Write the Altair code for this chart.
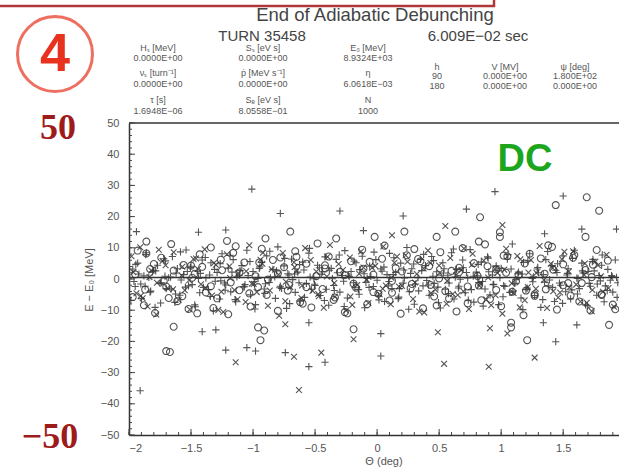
import altair as alt
import pandas as pd

# ---------------- data ----------------
PLUS_X = [-1.97,-1.95,-1.93,-1.90,-1.88,-1.86,-1.83,-1.81,-1.79,-1.77,-1.74,-1.72,-1.70,-1.68,-1.65,-1.63,-1.61,-1.59,-1.56,-1.54,-1.52,-1.50,-1.47,-1.45,-1.43,
          -1.41,-1.38,-1.36,-1.34,-1.32,-1.29,-1.27,-1.25,-1.23,-1.20,-1.18,-1.16,-1.14,-1.11,-1.09,-1.07,-1.05,-1.02,-1.00,-0.98,-0.96,-0.93,-0.91,-0.89,-0.87,
          -0.84,-0.82,-0.80,-0.78,-0.75,-0.73,-0.71,-0.69,-0.66,-0.64,-0.62,-0.60,-0.57,-0.55,-0.53,-0.51,-0.48,-0.46,-0.44,-0.42,-0.39,-0.37,-0.35,-0.33,-0.30,
          -0.28,-0.26,-0.24,-0.21,-0.19,-0.17,-0.15,-0.12,-0.10,-0.08,-0.06,-0.03,-0.01,0.01,0.03,0.06,0.08,0.10,0.12,0.15,0.17,0.19,0.21,0.24,0.26,
          0.28,0.30,0.33,0.35,0.37,0.39,0.42,0.44,0.46,0.48,0.51,0.53,0.55,0.57,0.60,0.62,0.64,0.66,0.69,0.71,0.73,0.75,0.78,0.80,0.82,
          0.84,0.87,0.89,0.91,0.93,0.96,0.98,1.00,1.02,1.05,1.07,1.09,1.11,1.14,1.16,1.18,1.20,1.23,1.25,1.27,1.29,1.32,1.34,1.36,1.38,
          1.41,1.43,1.45,1.47,1.50,1.52,1.54,1.56,1.59,1.61,1.63,1.65,1.68,1.70,1.72,1.74,1.77,1.79,1.81,1.83,1.86,1.88,1.90,1.92,1.94]
PLUS_Y = [3.2,-2.4,5.1,-6.3,1.0,8.4,-4.2,2.3,-9.1,4.4,-1.2,6.5,-3.1,0.4,7.2,-7.5,3.3,-5.2,1.4,9.3,-2.2,4.1,-8.3,2.5,-4.4,
          6.1,0.3,-3.4,5.2,-10.2,2.1,-6.4,8.1,-1.3,3.5,-4.1,6.2,-7.3,1.2,4.3,-2.5,9.2,-5.1,2.4,-8.2,0.2,5.3,-3.2,7.4,-1.1,
          3.1,-6.2,10.3,-2.3,4.2,-9.4,1.3,6.4,-4.3,2.2,-7.1,5.4,-1.4,8.3,-3.3,0.1,4.4,-5.3,2.3,7.1,-8.4,3.4,-2.1,6.3,-4.2,
          1.1,9.1,-6.1,2.4,-1.2,5.2,-3.4,7.3,-9.2,0.2,4.1,-2.4,6.2,-5.4,3.2,-7.2,1.4,8.2,-3.1,2.1,-6.3,5.1,-1.3,10.1,-4.1,
          3.3,-8.1,0.4,6.3,-2.2,4.3,-5.2,7.2,-1.4,2.3,-9.3,5.2,-3.3,1.2,8.4,-6.4,3.1,-2.3,6.1,-4.4,0.3,9.4,-7.4,2.2,-1.1,
          5.4,-3.2,7.1,-5.1,1.3,4.2,-8.2,3.4,-2.1,6.4,-4.3,11.2,-1.4,2.2,-6.1,5.3,-3.4,8.1,0.2,-5.3,3.2,-9.1,1.4,6.2,-2.2,
          4.3,-7.2,2.1,-1.3,7.4,-4.1,3.3,-6.4,9.2,0.3,-3.1,5.1,-8.3,2.4,-2.3,6.3,-5.2,1.1,4.4,-7.3,3.1,-0.4,-4.2,6.1,-1.2]

PLUS2_X = [-1.96,-1.92,-1.87,-1.84,-1.80,-1.75,-1.71,-1.66,-1.62,-1.58,-1.53,-1.49,-1.44,-1.40,-1.35,-1.31,-1.26,-1.22,-1.17,-1.13,
           -1.08,-1.04,-0.99,-0.95,-0.90,-0.86,-0.81,-0.77,-0.72,-0.68,-0.63,-0.59,-0.54,-0.50,-0.45,-0.41,-0.36,-0.32,-0.27,-0.23,
           -0.18,-0.14,-0.09,-0.05,0.00,0.04,0.09,0.13,0.18,0.22,0.27,0.31,0.36,0.40,0.45,0.49,0.54,0.58,0.63,0.67,
           0.72,0.76,0.81,0.85,0.90,0.94,0.99,1.03,1.08,1.12,1.17,1.21,1.26,1.30,1.35,1.39,1.44,1.48,1.53,1.57,
           1.62,1.66,1.71,1.75,1.80,1.84,1.89,1.93]
PLUS2_Y = [-0.8,1.6,-2.3,0.5,2.8,-1.4,0.9,-3.2,1.9,-0.3,2.4,-1.8,0.2,-2.7,1.3,3.1,-0.6,-1.9,2.2,0.7,
           -2.5,1.1,-0.9,3.4,-1.5,0.4,2.6,-3.0,1.7,-0.2,-1.2,2.9,0.6,-2.1,1.5,-3.3,0.1,2.0,-0.7,1.2,
           -2.8,3.0,-1.1,0.8,-0.4,2.5,-2.2,1.4,-3.1,0.3,1.8,-1.6,2.7,-0.5,0.9,-2.6,3.3,-1.3,0.6,-0.1,
           2.1,-3.4,1.0,-0.8,2.3,-1.7,0.4,-2.4,3.2,-0.2,1.6,-2.9,0.7,2.0,-1.0,-0.3,2.8,-2.0,1.3,-3.5,
           0.2,1.9,-1.4,2.6,-0.6,-2.2,1.1,0.5]

PLUS3_X = [-1.985,-1.945,-1.905,-1.865,-1.825,-1.785,-1.745,-1.705,-1.665,-1.625,-1.585,-1.545,-1.505,-1.465,-1.425,-1.385,-1.345,-1.305,-1.265,-1.225,
           -1.185,-1.145,-1.105,-1.065,-1.025,-0.985,-0.945,-0.905,-0.865,-0.825,-0.785,-0.745,-0.705,-0.665,-0.625,-0.585,-0.545,-0.505,-0.465,-0.425,
           -0.385,-0.345,-0.305,-0.265,-0.225,-0.185,-0.145,-0.105,-0.065,-0.025,0.015,0.055,0.095,0.135,0.175,0.215,0.255,0.295,0.335,0.375,
           0.415,0.455,0.495,0.535,0.575,0.615,0.655,0.695,0.735,0.775,0.815,0.855,0.895,0.935,0.975,1.015,1.055,1.095,1.135,1.175,
           1.215,1.255,1.295,1.335,1.375,1.415,1.455,1.495,1.535,1.575,1.615,1.655,1.695,1.735,1.775,1.815,1.855,1.895,1.935]
PLUS3_Y = [-6.8,4.7,-1.6,7.8,-3.9,2.6,-7.7,5.8,0.6,-4.8,8.7,-2.6,3.7,-8.9,1.8,6.9,-5.6,-0.7,4.9,-3.6,
           7.6,-6.6,2.7,-1.8,5.6,-9.6,3.9,-4.6,8.9,0.7,-2.8,6.6,-7.9,1.6,4.6,-5.9,9.8,-1.7,3.6,-6.9,
           2.8,-3.7,7.7,-8.8,0.8,5.7,-4.9,1.7,-2.7,8.6,-6.7,3.8,-0.8,6.8,-5.8,2.9,-9.7,4.8,-3.8,7.9,
           -1.9,5.9,-7.6,1.9,-4.7,9.6,-2.9,3.6,-6.8,0.9,4.7,-8.7,6.7,-1.8,2.8,-5.7,7.8,-3.9,1.7,-9.8,
           5.8,-0.9,3.7,-6.6,8.8,-2.7,4.9,-7.8,1.8,6.6,-4.8,2.6,-8.6,5.6,-1.6,7.7,-3.7,0.8,-5.9]

PLUS_OUT_X = [-1.01,-0.78,-0.30,-1.44,-1.22,-1.94,0.95,1.50,0.72,0.21,-0.11,1.93,1.35,1.65,
              -1.41,-1.30,-1.22,-1.05,-0.98,-0.74,-0.55,-0.55,-0.42,-1.91,0.03,0.03,1.44,1.61,1.34]
PLUS_OUT_Y = [28.8,21.0,21.8,15.0,15.7,15.2,28.0,26.6,22.4,20.2,15.5,16.0,14.5,16.0,
              -16.9,-16.3,-22.8,-22.0,-23.1,-23.6,-14.0,-28.1,-26.7,-35.8,-17.5,-24.7,-20.1,-14.7,-14.0]

CROSS_X = [-1.98,-1.94,-1.91,-1.85,-1.82,-1.78,-1.73,-1.69,-1.64,-1.60,-1.57,-1.51,-1.48,-1.42,-1.39,-1.33,-1.30,-1.24,-1.21,-1.15,
           -1.12,-1.06,-1.03,-0.97,-0.94,-0.88,-0.85,-0.79,-0.76,-0.70,-0.67,-0.61,-0.58,-0.52,-0.49,-0.43,-0.40,-0.34,-0.31,-0.25,
           -0.22,-0.16,-0.13,-0.07,-0.04,0.02,0.05,0.11,0.14,0.20,0.23,0.29,0.32,0.38,0.41,0.47,0.50,0.56,0.59,0.65,
           0.68,0.74,0.77,0.83,0.86,0.92,0.95,1.01,1.04,1.10,1.13,1.19,1.22,1.28,1.31,1.37,1.40,1.46,1.49,1.55,
           1.58,1.64,1.67,1.73,1.76,1.82,1.85,1.91,
           -1.89,-1.76,-1.55,-1.46,-1.28,-1.19,-1.01,-0.92,-0.74,-0.65,-0.47,-0.38,-0.20,-0.11,0.07,0.16,0.34,0.43,0.61,0.70,
           0.88,0.97,1.15,1.24,1.42,1.51,1.69,1.78]
CROSS_Y = [7.3,-4.6,10.2,-8.8,2.7,-11.4,5.8,-2.9,8.6,-6.7,3.9,-9.8,6.4,-1.7,9.5,-5.3,4.6,-10.6,7.9,-3.5,
           1.8,-7.4,10.8,-4.2,6.2,-8.6,3.1,-11.8,8.3,-2.6,5.4,-6.1,9.9,-3.8,2.4,-9.2,7.1,-5.7,4.8,-10.1,
           6.9,-1.9,8.8,-7.7,3.6,-4.9,10.4,-8.1,5.2,-2.2,7.6,-6.4,1.6,-10.7,9.1,-3.4,4.3,-7.9,6.7,-5.1,
           2.9,-9.6,8.1,-1.4,5.9,-8.4,3.3,-11.1,9.7,-4.5,7.4,-6.8,2.1,-3.1,10.6,-9.3,4.9,-5.9,6.3,-2.7,
           8.9,-7.2,1.3,-10.3,5.6,-4.1,7.8,-8.9,
           -6.2,9.4,-3.6,6.6,-9.9,4.1,-1.5,8.4,-7.1,2.6,-5.5,10.9,-8.3,3.7,-2.1,7.2,-10.4,5.1,-4.8,9.8,
           -6.6,1.9,-9.1,6.1,-3.9,8.7,-7.6,4.4]

CROSS2_X = [-1.965,-1.905,-1.835,-1.775,-1.705,-1.645,-1.575,-1.515,-1.445,-1.385,-1.315,-1.255,-1.185,-1.125,-1.055,-0.995,-0.925,-0.865,-0.795,-0.735,
            -0.665,-0.605,-0.535,-0.475,-0.405,-0.345,-0.275,-0.215,-0.145,-0.085,-0.015,0.045,0.115,0.175,0.245,0.305,0.375,0.435,0.505,0.565,
            0.635,0.695,0.765,0.825,0.895,0.955,1.025,1.085,1.155,1.215,1.285,1.345,1.415,1.475,1.545,1.605,1.675,1.735,1.805,1.865]
CROSS2_Y = [2.2,-5.4,0.6,-1.2,4.4,-3.3,1.1,-0.4,3.2,-2.8,5.1,-4.1,0.3,-6.5,2.5,-1.6,4.9,-3.7,1.4,-0.9,
            3.8,-2.1,6.1,-4.8,0.8,-1.3,2.9,-5.6,1.7,-0.2,4.2,-3.1,0.4,-2.4,5.5,-1.1,3.4,-4.5,2.0,-0.6,
            1.2,-3.9,4.6,-2.2,0.5,-5.2,3.0,-1.4,6.3,-2.6,1.9,-0.3,3.5,-4.3,2.4,-1.8,5.0,-3.5,0.9,-2.9]

CROSS_OUT_X = [0.55,1.01,0.12,-1.14,-0.67,-0.74,-0.63,-0.45,-0.19,0.49,0.54,0.91,0.90,1.05,1.27]
CROSS_OUT_Y = [17.0,17.3,14.0,-26.7,-24.9,-14.5,-35.6,-23.6,-19.3,-17.1,-27.2,-15.8,-28.1,-17.5,-25.2]

CIRC_X = [-1.97,-1.93,-1.88,-1.83,-1.79,-1.74,-1.70,-1.66,-1.61,-1.56,-1.52,-1.47,-1.43,-1.38,-1.34,-1.29,-1.25,-1.20,-1.16,-1.11,
          -1.07,-1.02,-0.98,-0.93,-0.89,-0.84,-0.80,-0.75,-0.71,-0.66,-0.62,-0.57,-0.53,-0.48,-0.44,-0.39,-0.35,-0.30,-0.26,-0.21,
          -0.17,-0.12,-0.08,-0.03,0.01,0.06,0.10,0.15,0.19,0.24,0.28,0.33,0.37,0.42,0.46,0.51,0.55,0.60,0.64,0.69,
          0.73,0.78,0.82,0.87,0.91,0.96,1.00,1.05,1.09,1.14,1.18,1.23,1.27,1.32,1.36,1.41,1.45,1.50,1.54,1.59,
          1.63,1.68,1.72,1.77,1.81,1.86,1.90,
          -1.86,-1.68,-1.50,-1.32,-1.14,-0.96,-0.78,-0.60,-0.42,-0.24,-0.06,0.12,0.30,0.48,0.66,0.84,1.02,1.20,1.38,1.56,
          1.74,1.92]
CIRC_Y = [-5.8,9.1,-8.4,3.2,-10.9,6.8,-2.4,11.2,-7.1,4.5,-9.6,1.7,7.9,-4.3,10.1,-6.2,2.8,-11.3,8.4,-3.6,
          5.3,-8.8,0.9,9.7,-5.1,6.1,-10.2,3.8,-1.9,8.9,-7.4,4.9,-9.1,11.4,-3.2,7.2,-6.7,2.3,-10.6,5.7,
          -2.8,9.4,-8.1,1.4,-4.7,10.7,-6.9,3.5,-11.1,7.6,-1.6,6.4,-9.4,4.1,-5.6,8.6,-3.9,2.6,-10.4,9.9,
          -7.8,5.1,-2.1,11.1,-6.4,3.1,-8.7,7.3,-4.1,1.2,-11.6,8.1,-5.4,6.6,-3.3,10.3,-9.8,4.7,-1.3,7.7,
          -7.2,2.9,-10.1,9.3,-4.9,5.9,-8.2,
          8.2,-6.1,4.3,-9.3,10.5,-2.6,6.9,-7.9,3.4,-11.0,5.5,-4.4,9.6,-8.5,2.2,-6.8,7.5,-3.7,10.8,-5.3,
          4.6,-9.7]

CIRC2_X = [-1.95,-1.87,-1.80,-1.72,-1.64,-1.57,-1.49,-1.41,-1.34,-1.26,-1.18,-1.11,-1.03,-0.95,-0.88,-0.80,-0.72,-0.65,-0.57,-0.49,
           -0.42,-0.34,-0.26,-0.19,-0.11,-0.03,0.04,0.12,0.20,0.27,0.35,0.43,0.50,0.58,0.66,0.73,0.81,0.89,0.96,1.04,
           1.12,1.19,1.27,1.35,1.42,1.50,1.58,1.65,1.73,1.81]
CIRC2_Y = [1.5,-3.4,4.8,-0.7,2.7,-5.5,0.4,3.9,-2.3,6.2,-1.1,2.1,-4.6,5.3,-0.2,1.8,-3.7,7.1,-2.6,0.9,
           4.4,-5.9,1.3,-1.5,3.3,-4.2,6.5,-0.6,2.4,-3.0,5.7,-1.9,0.2,-6.3,3.6,-2.4,1.0,4.1,-3.5,2.0,
           -0.8,5.0,-4.9,1.7,3.0,-2.0,6.8,-1.3,0.6,-5.1]

CIRC_OUT_X = [-0.70,-1.21,-1.86,-0.90,-0.33,1.69,1.44,1.79,0.83,0.22,0.99,0.99,0.63,0.48,1.68,-0.02,0.82,
              -1.64,-1.70,-1.67,-0.96,-0.91,-0.94,-0.19,1.08,1.08,1.21,1.87,-1.45]
CIRC_OUT_Y = [15.2,12.2,12.0,13.0,13.0,26.2,23.7,21.9,19.8,15.2,15.0,13.5,15.2,13.5,13.5,13.5,12.0,
              -15.3,-23.1,-23.4,-15.5,-16.5,-19.6,-16.1,-15.5,-14.0,-19.6,-14.7,-11.0]

X_TICK_LABELS = [-2, -1.5, -1, -0.5, 0, 0.5, 1, 1.5]
Y_TICK_LABELS = [50, 40, 30, 20, 10, 0, -10, -20, -30, -40, -50]
X_MINOR = [round(-2 + 0.1 * i, 1) for i in range(40)]
Y_MINOR = list(range(-50, 51, 2))

# ---------------- build ----------------
def frame(xs, ys):
    return pd.DataFrame(list(zip(xs, ys)), columns=["x", "y"])

plus_df = pd.concat([frame(PLUS_X, PLUS_Y), frame(PLUS2_X, PLUS2_Y), frame(PLUS3_X, PLUS3_Y),
                     frame(PLUS_OUT_X, PLUS_OUT_Y)])
cross_df = pd.concat([frame(CROSS_X, CROSS_Y), frame(CROSS2_X, CROSS2_Y), frame(CROSS_OUT_X, CROSS_OUT_Y)])
circ_df = pd.concat([frame(CIRC_X, CIRC_Y), frame(CIRC2_X, CIRC2_Y), frame(CIRC_OUT_X, CIRC_OUT_Y)])

W, H = 490, 312
INK = "#383838"
AX = "#555555"
FONT = "Liberation Sans"
xscale = alt.Scale(domain=[-2, 1.95], nice=False, zero=False)
yscale = alt.Scale(domain=[-50, 50], nice=False, zero=False)
XAX = alt.Axis(values=X_TICK_LABELS, format="~g", tickSize=0, labelPadding=7, title=None,
               domainColor="#333", domainWidth=1.5, grid=False,
               labelFont=FONT, labelFontSize=11, labelColor=AX)
YAX = alt.Axis(values=Y_TICK_LABELS, format="d", tickSize=0, labelPadding=10, title=None,
               domainColor="#333", domainWidth=1.5, grid=False,
               labelFont=FONT, labelFontSize=11, labelColor=AX)

PLUS_PATH = "M-1,0L1,0M0,-1L0,1"
CROSS_PATH = "M-0.8,-0.8L0.8,0.8M0.8,-0.8L-0.8,0.8"

def scatter(df, shape, size):
    return alt.Chart(df).mark_point(shape=shape, filled=False, stroke=INK, strokeWidth=1.1,
                                    size=size, opacity=0.85, clip=True).encode(
        x=alt.X("x:Q", scale=xscale, axis=XAX, title=None),
        y=alt.Y("y:Q", scale=yscale, axis=YAX, title=None))

def xticks(vals, length):
    return alt.Chart(pd.DataFrame({"x": vals})).mark_rule(color="#444", strokeWidth=1).encode(
        x=alt.X("x:Q", scale=xscale, axis=XAX, title=None), y=alt.value(H), y2=alt.value(H - length))

def yticks(vals, length):
    return alt.Chart(pd.DataFrame({"y": vals})).mark_rule(color="#444", strokeWidth=1).encode(
        y=alt.Y("y:Q", scale=yscale, axis=YAX, title=None), x=alt.value(0), x2=alt.value(length))

def hline(v, width):
    return alt.Chart(pd.DataFrame({"y": [v]})).mark_rule(color="#333", strokeWidth=width).encode(
        y=alt.Y("y:Q", scale=yscale, axis=YAX, title=None))

def txt(s, x, y, size, color=AX, font=FONT, weight="normal", angle=0):
    return alt.Chart(pd.DataFrame({"t": [s]})).mark_text(
        fontSize=size, font=font, fontWeight=weight, color=color, angle=angle,
        align="center", baseline="middle").encode(
        text="t:N", x=alt.value(x), y=alt.value(y))

# header / table texts (positions relative to plot origin)
texts = [
    txt("End of Adiabatic Debunching", 246, -108, 18.5, "#444"),
    txt("TURN 35458", 133, -87, 15, "#444"),
    txt("6.009E\u221202 sec", 349, -87, 15, "#444"),
]
COL_X = [29, 134, 239]
ROW_Y = [-75, -65, -50, -39, -23, -12]
TABLE = [
    ["H\u209b [MeV]", "0.0000E+00", "\u03bd\u209b [turn\u207b\u00b9]", "0.0000E+00", "\u03c4 [s]", "1.6948E\u221206"],
    ["S\u209b [eV s]", "0.0000E+00", "\u1e57 [MeV s\u207b\u00b9]", "0.0000E+00", "S\u2091 [eV s]", "8.0558E\u221201"],
    ["E\u2080 [MeV]", "8.9324E+03", "\u03b7", "6.0618E\u221203", "N", "1000"],
]
for cx, col in zip(COL_X, TABLE):
    for ry, s in zip(ROW_Y, col):
        texts.append(txt(s, cx, ry, 9))
RF_X = [308, 376, 446]
RF = [["h", "90", "180"], ["V [MV]", "0.000E+00", "0.000E+00"], ["\u03c8 [deg]", "1.800E+02", "0.000E+00"]]
for cx, col in zip(RF_X, RF):
    for ry, s in zip([-56, -47, -37], col):
        texts.append(txt(s, cx, ry, 9))

texts += [
    txt("E \u2212 E\u2080 [MeV]", -39, 157, 11, AX, angle=270),
    txt("\u0398 (deg)", 255, 339, 11, AX),
    txt("DC", 396, 37, 38, "#1da51d", weight="bold"),
    txt("50", -71, 5, 36, "#9e1b1b", font="Liberation Serif", weight="bold"),
    txt("\u221250", -79, 314, 36, "#9e1b1b", font="Liberation Serif", weight="bold"),
    txt("4", -74, -68, 54, "#e8321e", weight="bold"),
]

circle4 = alt.Chart(pd.DataFrame({"t": [0]})).mark_point(
    shape="circle", filled=False, stroke="#e8321e", strokeWidth=3, size=75 * 75).encode(
    x=alt.value(-74), y=alt.value(-69))

red_box = alt.Chart(pd.DataFrame({"t": [0]})).mark_rect(
    fill="transparent", stroke="#b03838", strokeWidth=2.5).encode(
    x=alt.value(-140), x2=alt.value(365), y=alt.value(-135), y2=alt.value(-117))

chart = alt.layer(
    hline(50, 1.5),
    hline(0.5, 1.6),
    xticks(X_MINOR, 3), xticks(X_TICK_LABELS, 6),
    yticks(Y_MINOR, 3), yticks(Y_TICK_LABELS, 6),
    scatter(plus_df, PLUS_PATH, 52),
    scatter(cross_df, CROSS_PATH, 52),
    scatter(circ_df, "circle", 48),
    circle4, red_box, *texts,
).properties(
    width=W, height=H,
    autosize=alt.AutoSizeParams(type="none"),
    padding={"left": 129, "top": 123, "right": 0, "bottom": 39},
    background="white",
).configure_view(stroke=None)

chart.save("out.html", embed_options={"renderer": "svg", "actions": False})
